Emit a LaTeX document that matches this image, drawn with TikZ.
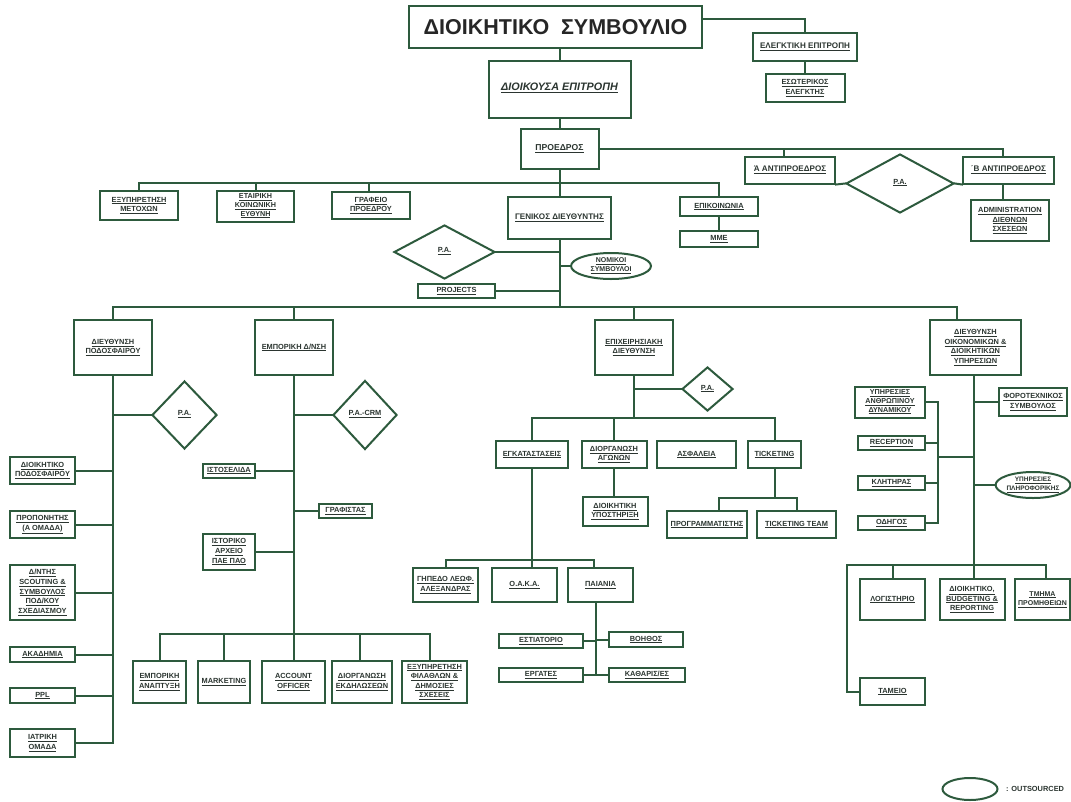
\documentclass[tikz,border=0pt]{standalone}
\usepackage{fontspec}
\setmainfont{Liberation Sans}
\usetikzlibrary{shapes.geometric}
\definecolor{ln}{HTML}{2D5A3D}
\definecolor{tx}{HTML}{2B3530}
\newcommand{\uln}[1]{\underline{#1}}
\newcommand{\fs}{\fontsize{7.4}{9.6}\selectfont\bfseries}
\newcommand{\fsb}{\fontsize{8.1}{10}\selectfont\bfseries}
\newcommand{\fst}{\fontsize{7.2}{8.7}\selectfont\bfseries}
\tikzset{
  bx/.style n args={2}{draw=ln, line width=2pt, fill=white, minimum width=#1, minimum height=#2, inner sep=0pt, align=center, font=\fs, text=tx},
  dia/.style n args={2}{diamond, draw=ln, line width=2pt, fill=white, minimum width=#1, minimum height=#2, inner sep=0pt, align=center, font=\fs, text=tx},
  ell/.style n args={2}{ellipse, draw=ln, line width=2pt, fill=white, minimum width=#1, minimum height=#2, inner sep=0pt, align=center, font=\fs, text=tx},
  wire/.style={draw=ln, line width=2pt},
}
\begin{document}
\begin{tikzpicture}[x=1pt,y=-1pt]
\useasboundingbox[fill=white] (0,0) rectangle (1071,801);
% ---------- top ----------
\node[bx={293pt}{42pt}, font=\fontsize{21.5}{24}\selectfont\bfseries, text=black!85] (title) at (555.5,27) {ΔΙΟΙΚΗΤΙΚΟ\hspace{0.55em}ΣΥΜΒΟΥΛΙΟ};
\node[bx={142pt}{57pt}, font=\fontsize{10.8}{12}\selectfont\bfseries\itshape] (dioik) at (559.5,89.5) {\raisebox{5pt}{\uln{ΔΙΟΙΚΟΥΣΑ ΕΠΙΤΡΟΠΗ}}};
\node[bx={78pt}{40pt}, font=\fontsize{8.6}{10}\selectfont\bfseries] (proedros) at (559.5,149) {\uln{ΠΡΟΕΔΡΟΣ}};
\node[bx={104pt}{28pt}, font=\fsb] (elegk) at (805,47) {\uln{ΕΛΕΓΚΤΙΚΗ ΕΠΙΤΡΟΠΗ}};
\node[bx={79pt}{28pt}] (esot) at (805,88) {\uln{ΕΣΩΤΕΡΙΚΟΣ}\\\uln{ΕΛΕΓΚΤΗΣ}};
\node[bx={90pt}{27pt}, font=\fsb] (aant) at (790,170) {\uln{Ά ΑΝΤΙΠΡΟΕΔΡΟΣ}};
\node[bx={91pt}{27pt}, font=\fsb] (bant) at (1008.5,170) {\uln{΄Β ΑΝΤΙΠΡΟΕΔΡΟΣ}};
\node[dia={108pt}{59pt}] (pa1) at (900,183.5) {\raisebox{4pt}{\uln{P.A.}}};
\node[bx={78pt}{41pt}] (admin) at (1010,220.5) {\uln{ADMINISTRATION}\\\uln{ΔΙΕΘΝΩΝ}\\\uln{ΣΧΕΣΕΩΝ}};
% ---------- second row ----------
\node[bx={78pt}{29pt}] (exyp) at (139,205.5) {\uln{ΕΞΥΠΗΡΕΤΗΣΗ}\\\uln{ΜΕΤΟΧΩΝ}};
\node[bx={77pt}{31pt}, font=\fst] (etair) at (255.5,206) {\uln{ΕΤΑΙΡΙΚΗ}\\\uln{ΚΟΙΝΩΝΙΚΗ}\\\uln{ΕΥΘΥΝΗ}};
\node[bx={78pt}{27pt}] (grafeio) at (371,205.5) {\uln{ΓΡΑΦΕΙΟ}\\\uln{ΠΡΟΕΔΡΟΥ}};
\node[bx={103pt}{42pt}, font=\fsb] (genikos) at (559.5,218) {\uln{ΓΕΝΙΚΟΣ ΔΙΕΥΘΥΝΤΗΣ}};
\node[bx={78pt}{19pt}] (epik) at (719,206.5) {\uln{ΕΠΙΚΟΙΝΩΝΙΑ}};
\node[bx={78pt}{16pt}] (mme) at (719,239) {\uln{ΜΜΕ}};
\node[dia={101pt}{54pt}] (pa2) at (444.5,252) {\raisebox{4pt}{\uln{P.A.}}};
\node[ell={80pt}{26pt}, font=\fontsize{7}{9}\selectfont\bfseries] (nomikoi) at (611,266) {\uln{ΝΟΜΙΚΟΙ}\\\uln{ΣΥΜΒΟΥΛΟΙ}};
\node[bx={77pt}{14pt}] (projects) at (456.5,291) {\uln{PROJECTS}};
% ---------- directorates ----------
\node[bx={78pt}{55pt}] (dpod) at (113,347.5) {\uln{ΔΙΕΥΘΥΝΣΗ}\\\uln{ΠΟΔΟΣΦΑΙΡΟΥ}};
\node[bx={78pt}{55pt}] (empdn) at (294,347.5) {\uln{ΕΜΠΟΡΙΚΗ Δ/ΝΣΗ}};
\node[bx={78pt}{55pt}] (epixd) at (634,347.5) {\uln{ΕΠΙΧΕΙΡΗΣΙΑΚΗ}\\\uln{ΔΙΕΥΘΥΝΣΗ}};
\node[bx={91pt}{55pt}] (doik) at (975.5,347.5) {\uln{ΔΙΕΥΘΥΝΣΗ}\\\uln{ΟΙΚΟΝΟΜΙΚΩΝ \&}\\\uln{ΔΙΟΙΚΗΤΙΚΩΝ}\\\uln{ΥΠΗΡΕΣΙΩΝ}};
% ---------- football ----------
\node[dia={65pt}{68pt}] (pa3) at (184.5,415) {\raisebox{4pt}{\uln{P.A.}}};
\node[bx={65pt}{27pt}] (dioikpod) at (42.5,470.5) {\uln{ΔΙΟΙΚΗΤΙΚΟ}\\\uln{ΠΟΔΟΣΦΑΙΡΟΥ}};
\node[bx={65pt}{27pt}] (propon) at (42.5,524.5) {\uln{ΠΡΟΠΟΝΗΤΗΣ}\\\uln{(Α ΟΜΑΔΑ)}};
\node[bx={65pt}{55pt}] (scout) at (42.5,592.5) {\uln{Δ/ΝΤΗΣ}\\\uln{SCOUTING \&}\\\uln{ΣΥΜΒΟΥΛΟΣ}\\\uln{ΠΟΔ/ΚΟΥ}\\\uln{ΣΧΕΔΙΑΣΜΟΥ}};
\node[bx={65pt}{15pt}] (akad) at (42.5,654.5) {\uln{ΑΚΑΔΗΜΙΑ}};
\node[bx={65pt}{15pt}] (ppl) at (42.5,695.5) {\uln{PPL}};
\node[bx={65pt}{28pt}] (iatr) at (42.5,743) {\uln{ΙΑΤΡΙΚΗ}\\\uln{ΟΜΑΔΑ}};
% ---------- commercial ----------
\node[dia={64pt}{69pt}] (pacrm) at (365,415) {\raisebox{4pt}{\uln{P.A.-CRM}}};
\node[bx={52pt}{14pt}] (istos) at (229,470.5) {\uln{ΙΣΤΟΣΕΛΙΔΑ}};
\node[bx={53pt}{14pt}] (grafistas) at (345.5,511) {\uln{ΓΡΑΦΙΣΤΑΣ}};
\node[bx={52pt}{36pt}] (istoriko) at (229,552) {\uln{ΙΣΤΟΡΙΚΟ}\\\uln{ΑΡΧΕΙΟ}\\\uln{ΠΑΕ ΠΑΟ}};
\node[bx={53pt}{42pt}] (empan) at (159.5,682) {\uln{ΕΜΠΟΡΙΚΗ}\\\uln{ΑΝΑΠΤΥΞΗ}};
\node[bx={52pt}{42pt}] (marketing) at (224,682) {\uln{MARKETING}};
\node[bx={63pt}{42pt}] (account) at (293.5,682) {\uln{ACCOUNT}\\\uln{OFFICER}};
\node[bx={60pt}{42pt}] (diorgekd) at (362,682) {\uln{ΔΙΟΡΓΑΝΩΣΗ}\\\uln{ΕΚΔΗΛΩΣΕΩΝ}};
\node[bx={65pt}{42pt}] (exypfil) at (434.5,682) {\uln{ΕΞΥΠΗΡΕΤΗΣΗ}\\\uln{ΦΙΛΑΘΛΩΝ \&}\\\uln{ΔΗΜΟΣΙΕΣ}\\\uln{ΣΧΕΣΕΙΣ}};
% ---------- operations ----------
\node[dia={51pt}{44pt}] (pa4) at (707.5,389) {\raisebox{3pt}{\uln{P.A.}}};
\node[bx={72pt}{27pt}] (egkat) at (532,454.5) {\uln{ΕΓΚΑΤΑΣΤΑΣΕΙΣ}};
\node[bx={65pt}{27pt}] (diorgag) at (614,454.5) {\uln{ΔΙΟΡΓΑΝΩΣΗ}\\\uln{ΑΓΩΝΩΝ}};
\node[bx={79pt}{27pt}] (asfal) at (696.5,454.5) {\uln{ΑΣΦΑΛΕΙΑ}};
\node[bx={53pt}{27pt}] (ticketing) at (774.5,454.5) {\uln{TICKETING}};
\node[bx={65pt}{29pt}] (dioikyp) at (615,511.5) {\uln{ΔΙΟΙΚΗΤΙΚΗ}\\\uln{ΥΠΟΣΤΗΡΙΞΗ}};
\node[bx={80pt}{27pt}] (program) at (707,524.5) {\uln{ΠΡΟΓΡΑΜΜΑΤΙΣΤΗΣ}};
\node[bx={79pt}{27pt}] (tteam) at (796.5,524.5) {\uln{TICKETING TEAM}};
\node[bx={65pt}{34pt}] (gipedo) at (445.5,585) {\uln{ΓΗΠΕΔΟ ΛΕΩΦ.}\\\uln{ΑΛΕΞΑΝΔΡΑΣ}};
\node[bx={65pt}{34pt}] (oaka) at (524.5,585) {\uln{Ο.Α.Κ.Α.}};
\node[bx={65pt}{34pt}] (paiania) at (600.5,585) {\uln{ΠΑΙΑΝΙΑ}};
\node[bx={84pt}{14pt}] (estiat) at (541,641) {\uln{ΕΣΤΙΑΤΟΡΙΟ}};
\node[bx={74pt}{15pt}] (voithos) at (646,639.5) {\uln{ΒΟΗΘΟΣ}};
\node[bx={84pt}{14pt}] (ergates) at (541,675) {\uln{ΕΡΓΑΤΕΣ}};
\node[bx={76pt}{14pt}] (kathar) at (647,675) {\uln{ΚΑΘΑΡΙΣ/ΕΣ}};
% ---------- finance ----------
\node[bx={68pt}{28pt}] (foro) at (1033,402) {\uln{ΦΟΡΟΤΕΧΝΙΚΟΣ}\\\uln{ΣΥΜΒΟΥΛΟΣ}};
\node[ell={68pt}{26pt}, font=\fontsize{6.5}{8.6}\selectfont\bfseries] (pliro) at (1033,485) {\uln{ΥΠΗΡΕΣΙΕΣ}\\\uln{ΠΛΗΡΟΦΟΡΙΚΗΣ}};
\node[bx={70pt}{31pt}, font=\fst] (ypan) at (890,402) {\uln{ΥΠΗΡΕΣΙΕΣ}\\\uln{ΑΝΘΡΩΠΙΝΟΥ}\\\uln{ΔΥΝΑΜΙΚΟΥ}};
\node[bx={67pt}{14pt}] (recep) at (891.5,443) {\uln{RECEPTION}};
\node[bx={67pt}{14pt}] (klit) at (891.5,483) {\uln{ΚΛΗΤΗΡΑΣ}};
\node[bx={67pt}{14pt}] (odig) at (891.5,523) {\uln{ΟΔΗΓΟΣ}};
\node[bx={65pt}{41pt}] (logist) at (892.5,599.5) {\uln{ΛΟΓΙΣΤΗΡΙΟ}};
\node[bx={65pt}{41pt}] (budget) at (972,599.5) {\uln{ΔΙΟΙΚΗΤΙΚΟ,}\\\uln{BUDGETING \&}\\\uln{REPORTING}};
\node[bx={55pt}{41pt}, font=\fontsize{7}{9.6}\selectfont\bfseries] (tmima) at (1042.5,599.5) {\uln{ΤΜΗΜΑ}\\\uln{ΠΡΟΜΗΘΕΙΩΝ}};
\node[bx={65pt}{27pt}] (tameio) at (892.5,691.5) {\uln{ΤΑΜΕΙΟ}};
% ---------- legend ----------
\node[ell={55pt}{22pt}] (leg) at (970,789) {};
\node[font=\fs, text=tx, anchor=west, inner sep=0pt] (legt) at (1006,789) {: OUTSOURCED};
% ---------- bus coordinates ----------
\coordinate (b1) at (559.5,183);
\coordinate (b2) at (559.5,307);
\coordinate (b3) at (294,634);
\coordinate (b4) at (634,418);
\coordinate (b5) at (774.5,498);
\coordinate (b6) at (532,560);
\coordinate (b7) at (974,565);
\coordinate (b7l) at (847,565);
\coordinate (br) at (938,457);
\coordinate (pv) at ([xshift=-4.5pt]paiania.south);
\coordinate (dv) at ([xshift=-1.5pt]doik.south);
\coordinate (tm) at ([xshift=3.5pt]tmima.north);
% ---------- connectors ----------
\begin{scope}[wire, line cap=rect]
\draw (title.south -| dioik.north) -- (dioik.north);
\draw (dioik.south) -- (proedros.north);
\draw ([yshift=8pt]title.east) -| (elegk.north);
\draw (elegk.south) -- (esot.north);
\draw (proedros.east) -| ([xshift=-5.5pt]bant.north);
\draw ([xshift=-6pt]aant.north) -- ([xshift=-6pt]aant.north |- proedros.east);
\draw (aant.south east) -- (pa1.west);
\draw (pa1.east) -- (bant.south west);
\draw ([xshift=-5.5pt]bant.south) -- ([xshift=-5.5pt]bant.south |- admin.north);
\draw (proedros.south) -- (genikos.north);
\draw (exyp.north) |- (b1) -| (epik.north);
\draw (etair.north) -- (etair.north |- b1);
\draw ([xshift=-2pt]grafeio.north) -- ([xshift=-2pt]grafeio.north |- b1);
\draw (epik.south) -- (mme.north);
\draw (genikos.south) -- (b2);
\draw (pa2.east) -- (pa2.east -| b2);
\draw (nomikoi.west) -- (nomikoi.west -| b2);
\draw (projects.east) -- (projects.east -| b2);
\draw (dpod.north) |- (b2) -| ([xshift=-18.5pt]doik.north);
\draw (empdn.north) -- (empdn.north |- b2);
\draw (epixd.north) -- (epixd.north |- b2);
% football
\draw (dpod.south) -- (dpod.south |- iatr.east) -- (iatr.east);
\draw (pa3.west) -- (pa3.west -| dpod.south);
\draw (dioikpod.east) -- (dioikpod.east -| dpod.south);
\draw (propon.east) -- (propon.east -| dpod.south);
\draw (scout.east) -- (scout.east -| dpod.south);
\draw (akad.east) -- (akad.east -| dpod.south);
\draw (ppl.east) -- (ppl.east -| dpod.south);
% commercial
\draw (empdn.south) -- (b3);
\draw (empan.north) |- (b3) -| ([xshift=-4.5pt]exypfil.north);
\draw (marketing.north) -- (marketing.north |- b3);
\draw (account.north) -- (account.north |- b3);
\draw ([xshift=-2pt]diorgekd.north) -- ([xshift=-2pt]diorgekd.north |- b3);
\draw (pacrm.west) -- (pacrm.west -| b3);
\draw (istos.east) -- (istos.east -| b3);
\draw (grafistas.west) -- (grafistas.west -| b3);
\draw (istoriko.east) -- (istoriko.east -| b3);
% operations
\draw (epixd.south) -- (b4);
\draw (pa4.west) -- (pa4.west -| b4);
\draw (egkat.north) |- (b4) -| (ticketing.north);
\draw (diorgag.north) -- (diorgag.north |- b4);
\draw (diorgag.south) -- (diorgag.south |- dioikyp.north);
\draw (ticketing.south) -- (b5);
\draw ([xshift=12pt]program.north) |- (b5) -| (tteam.north);
\draw (egkat.south) -- (egkat.south |- oaka.north);
\draw (gipedo.north) |- (b6) -| ([xshift=-6.5pt]paiania.north);
\draw (pv) -- (pv |- ergates.east);
\draw (estiat.east) -- (estiat.east -| pv);
\draw (voithos.west) -- (voithos.west -| pv);
\draw (ergates.east) -- (ergates.east -| pv);
\draw (kathar.west) -- (kathar.west -| pv);
% finance
\draw (dv) -- (dv |- budget.north);
\draw (foro.west) -- (foro.west -| dv);
\draw (pliro.west) -- (pliro.west -| dv);
\draw (ypan.east) -- (ypan.east -| br) -- (br |- odig.east) -- (odig.east);
\draw (recep.east) -- (recep.east -| br);
\draw (klit.east) -- (klit.east -| br);
\draw (br) -- (br -| dv);
\draw (tameio.west) -| (b7l) -- (b7l -| tm) -- (tm);
\draw (logist.north) -- (logist.north |- b7);
\end{scope}
\end{tikzpicture}
\end{document}
